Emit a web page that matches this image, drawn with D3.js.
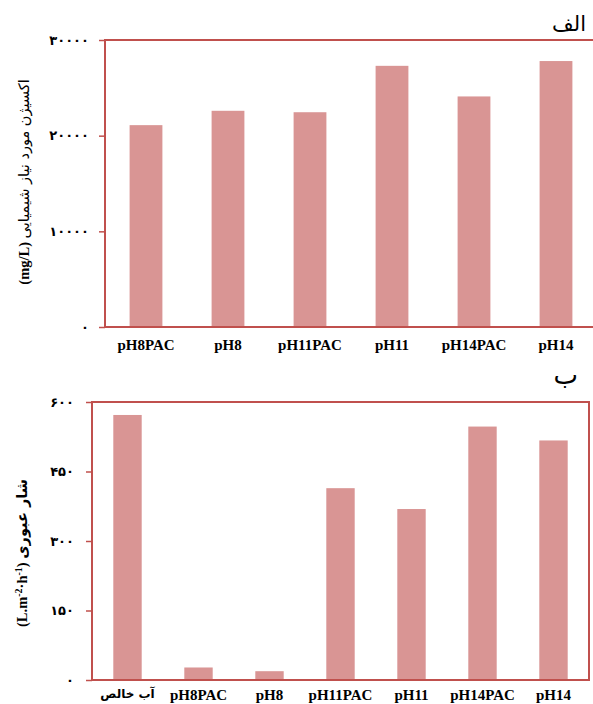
<!DOCTYPE html>
<html><head><meta charset="utf-8">
<script src="https://cdn.jsdelivr.net/npm/d3@7"></script>
<style>body{margin:0;background:#fff}svg{display:block}</style>
</head><body>
<svg id="c" width="593" height="704"></svg>
<script>
// Panel A (الف): chemical oxygen demand
const catsA = ["pH8PAC","pH8","pH11PAC","pH11","pH14PAC","pH14"];
const valsA = [21100, 22600, 22450, 27300, 24100, 27800];
const ticksA = [0, 10000, 20000, 30000];
// Panel B (ب): flux
const catsB = ["آب خالص","pH8PAC","pH8","pH11PAC","pH11","pH14PAC","pH14"];
const valsB = [572, 27, 19, 414, 369, 547, 517];
const ticksB = [0, 150, 300, 450, 600];

const frameColor = "#c0504d", barColor = "#d99594";
const svg = d3.select("#c");
const fa = s => String(s).replace(/[0-9]/g, d => "۰۱۲۳۴۵۶۷۸۹"[+d]);

function panel(cats, vals, ticks, box, title, titlePos, titleSize, labelParts, labelPos) {
  const x = d3.scaleBand().domain(cats).range([box.l, box.r]).paddingInner(0.6).paddingOuter(0.3);
  const y = d3.scaleLinear().domain([ticks[0], ticks[ticks.length-1]]).range([box.b, box.t]);
  const g = svg.append("g");
  g.selectAll("rect.bar").data(vals).join("rect").attr("class","bar")
    .attr("x", (d,i) => x(cats[i])).attr("width", x.bandwidth())
    .attr("y", d => y(d)).attr("height", d => y(0) - y(d))
    .attr("fill", barColor);
  g.append("rect").attr("x", box.l).attr("y", box.t).attr("width", box.r - box.l).attr("height", box.b - box.t)
    .attr("fill","none").attr("stroke", frameColor).attr("stroke-width", 2);
  const ax = g.append("g").attr("transform", `translate(${box.l},0)`)
    .call(d3.axisLeft(y).tickValues(ticks).tickSize(6).tickPadding(box.ypad).tickFormat(fa));
  ax.select(".domain").remove();
  ax.selectAll(".tick line").attr("stroke", frameColor).attr("stroke-width", 1.5);
  ax.selectAll(".tick text").attr("font-family","DejaVu Sans").attr("font-weight","bold")
    .attr("font-size", 13).attr("fill","#000").style("letter-spacing","3.5px");
  const xa = g.append("g").attr("transform", `translate(0,${box.b})`)
    .call(d3.axisBottom(x).tickSize(0).tickPadding(box.xpad));
  xa.select(".domain").remove();
  xa.selectAll(".tick text").attr("font-family", d => /[a-z]/i.test(d) ? "Liberation Serif" : "DejaVu Sans")
    .attr("font-weight","bold").attr("font-size", d => /[a-z]/i.test(d) ? 15 : 12).attr("fill","#000");
  g.append("text").attr("x", titlePos[0]).attr("y", titlePos[1]).attr("text-anchor","end")
    .attr("font-family","DejaVu Sans").attr("font-size", titleSize).text(title);
  const lt = g.append("text").attr("transform", `translate(${labelPos[0]},${labelPos[1]}) rotate(-90)`)
    .attr("text-anchor","middle").attr("font-size", 14.5);
  labelParts.forEach(p => {
    const ts = lt.append("tspan").text(p.t).attr("font-family", p.f).attr("font-weight", p.w || "normal");
    if (p.s) ts.attr("font-size", p.s < 0 ? 10 : 14.5).attr("dy", p.s);
  });
}

panel(catsA, valsA, ticksA, {l:105, r:597, t:40, b:327, xpad:12, ypad:10}, "الف", [586, 31], 21,
  [{t:"(mg/L) ", f:"Liberation Serif", w:"bold"}, {t:"اکسیژن مورد نیاز شیمیایی", f:"DejaVu Sans"}], [29, 182]);
panel(catsB, valsB, ticksB, {l:92, r:589, t:402, b:680, xpad:9, ypad:12}, "ب", [578, 384], 26,
  [{t:"(L.m", f:"Liberation Serif", w:"bold"}, {t:"-2", f:"Liberation Serif", w:"bold", s:-5},
   {t:"·h", f:"Liberation Serif", w:"bold", s:5}, {t:"-1", f:"Liberation Serif", w:"bold", s:-5},
   {t:") ", f:"Liberation Serif", w:"bold", s:5}, {t:"شار عبوری", f:"DejaVu Sans", w:"bold"}], [27, 553]);
</script>
</body></html>
